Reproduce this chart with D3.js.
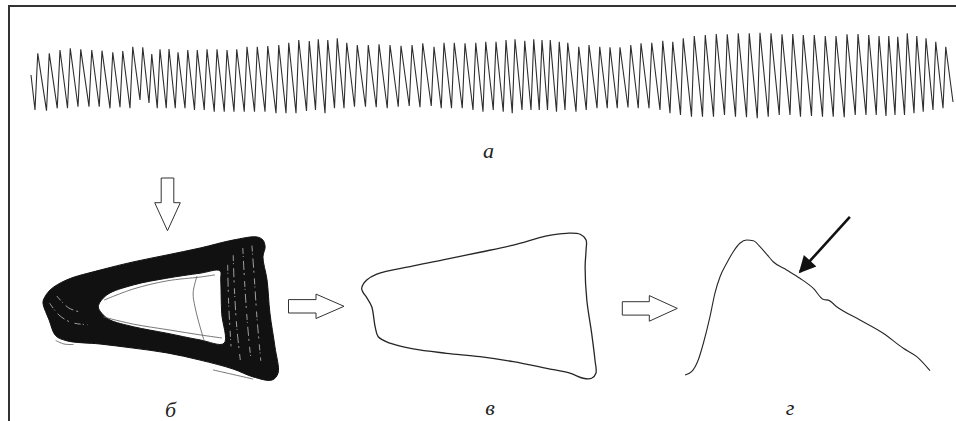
<!DOCTYPE html>
<html lang="ru">
<head>
    <meta charset="UTF-8">
    <title>Пульсовая волна</title>
    <style>
        body { margin: 0; background: #fff; }
        svg { display: block; }
        .lbl { font-family: 'Liberation Serif', 'DejaVu Serif', serif; font-style: italic; font-size: 22px; fill: #222; }
    </style>
</head>
<body>
<script src="https://d3js.org/d3.v7.min.js"></script>
<script>
    // а: peak times (s), peak and trough values of each beat
    const peakTimes = [
        0.54, 1.46, 2.32, 3.14, 3.98, 4.86, 5.68, 6.54, 7.34, 8.14,
        8.94, 9.66, 10.32, 11.04, 11.76, 12.54, 13.30, 14.08, 14.88, 15.68,
        16.46, 17.28, 18.10, 18.94, 19.82, 20.62, 21.42, 22.26, 22.98, 23.74,
        24.50, 25.26, 26.10, 26.98, 27.84, 28.72, 29.60, 30.48, 31.34, 32.24,
        33.04, 33.86, 34.72, 35.58, 36.38, 37.20, 38.00, 38.72, 39.50, 40.22,
        40.88, 41.54, 42.26, 42.94, 43.82, 44.64, 45.50, 46.32, 47.12, 47.98,
        48.80, 49.66, 50.54, 51.34, 52.18, 53.06, 53.94, 54.82, 55.70, 56.58,
        57.46, 58.32, 59.20, 60.08, 60.94, 61.78, 62.66, 63.54, 64.40, 65.28,
        66.16, 67.02, 67.84, 68.62, 69.34, 70.10, 70.86, 71.60, 72.38, 73.18
    ];
    const peakValues = [
        74.7, 74.7, 78, 79.7, 78.7, 78, 77.3, 75.7, 77, 81.3,
        80.7, 74, 78.7, 79, 75.7, 78, 78, 78.7, 78.7, 78,
        78.7, 81.3, 81.3, 82, 83, 85.3, 88, 87, 88.7, 88,
        89.7, 85.3, 83, 83, 83.7, 83, 82.3, 83, 84.7, 81.3,
        85.3, 85.3, 84.7, 85.3, 86.3, 86.3, 88, 88.7, 87.3, 88.7,
        88, 88, 86.3, 85.3, 81.3, 83, 81.3, 80.7, 80.7, 83,
        84.7, 85.3, 87.3, 86.3, 89.7, 92, 93, 94, 93.7, 94.7,
        94.7, 95.3, 94.7, 93.7, 94, 93, 93, 92, 92, 93.7,
        94, 93, 92, 92, 91.3, 94.7, 92, 89.7, 86.3, 81.3
    ];
    const troughValues = [
        18, 17.3, 19.7, 19.7, 21.3, 21.3, 21.3, 19.7, 20.7, 19.7,
        28, 25, 19.7, 19.7, 19.7, 19.7, 18, 18, 16.3, 16.3,
        16.3, 16.3, 16.3, 16.3, 14.7, 14.7, 14.7, 17, 18, 14.7,
        19.7, 19.7, 21.3, 21.3, 20.7, 19.7, 21.3, 22, 20.7, 22,
        19.7, 19.7, 19.7, 18, 16.3, 18, 16.3, 14.7, 18, 18,
        18, 18, 16.3, 18, 16.3, 18, 19.7, 19.7, 19.7, 20.5,
        19.7, 19.7, 18, 14.7, 13, 11.3, 11.3, 11.3, 13, 11.3,
        10.7, 9.7, 11.3, 13, 13, 11.3, 12, 11.3, 11.3, 10.7,
        13, 13, 13, 12, 13, 13, 14.7, 16.3, 18, 19.7
    ];
    const upstroke = 0.22;          // rise time of a beat, s
    const recordStart = [0, 53];
    const recordEnd = [73.76, 26];

    // б: phase portrait band (outer and inner edges), stray loops, gaps in the band
    const loopOuter = [
        [1.4, 33.3], [4.2, 37.5], [11.1, 41.7], [25, 45.8], [38.8, 49.2], [52.9, 52.1],
        [66.7, 55], [80.4, 58.3], [90.4, 59.6], [92.9, 58.3], [93.8, 55.4], [92.9, 51.3],
        [94.6, 41.7], [95.8, 27.9], [97.9, 13.8], [99.2, 2.9], [96.7, 0], [88.8, 1.3],
        [80.4, 4.6], [66.7, 8.3], [52.9, 11.3], [38.8, 13.3], [25, 15], [11.3, 16.3],
        [6.5, 18.5], [3.8, 25], [1.3, 31.6]
    ];
    const loopInner = [
        [24.3, 30.5], [27.8, 35.4], [38.9, 39.6], [52.8, 42.4], [66.7, 44.5], [75, 45.5],
        [75.3, 41.7], [75.7, 27.8], [76.7, 15.3], [66.7, 16.7], [52.8, 19.5], [38.9, 22.2],
        [29.2, 25], [26.4, 27.1]
    ];
    const strayLoops = [
        [[65.4, 43.3], [63.8, 36.3], [64.6, 30.4], [66.7, 22.1], [68.3, 16.7]],
        [[26.7, 33.3], [38.8, 37.9], [52.9, 41.3], [66.7, 42.9], [72.9, 43.8]],
        [[26.3, 26.3], [38.8, 23.3], [54.2, 20.8], [66.7, 18.8], [75.8, 17.5]],
        [[72.1, 4.2], [81.3, 2.1], [88.8, 0.4]],
        [[6.5, 16.5], [10, 15], [14, 14.8]]
    ];
    const bandGaps = [
        [[80.5, 52], [81, 38], [82, 22], [83.5, 8]],
        [[84.5, 55], [85.3, 40], [86.4, 24], [87.8, 9]],
        [[88.3, 56], [89.2, 44], [90.4, 26], [92, 8]],
        [[78.2, 48], [78.6, 32], [79.6, 14]],
        [[4, 32], [8, 27], [13, 24], [20, 23]],
        [[7, 35], [12, 30], [18, 28]]
    ];

    // в: averaged loop
    const loopMean = [
        [0.7, 37.4], [2.8, 40.8], [7, 43.3], [22.2, 46.7], [36.1, 49.5], [50, 52.4],
        [63.9, 55.4], [77.8, 59.2], [86.1, 60.3], [91.7, 59.9], [94.2, 57.5], [94.2, 53.3],
        [93.8, 46.4], [94.5, 32.5], [96.5, 18.8], [97.9, 7.5], [98.3, 2], [96.5, -0.1],
        [93, -0.1], [87.5, 2], [77.8, 4], [63.9, 6.8], [50, 8.9], [36.1, 10.3],
        [22.2, 12.1], [12.5, 14.5], [7.6, 17.2], [6.3, 21.4], [4.9, 29.7], [3, 33.2], [1.1, 36]
    ];

    // г: restored pulse wave (t, s; p, %)
    const pulseShape = [
        [0, 0.7], [0.027, 3.1], [0.054, 11.4], [0.075, 23.4], [0.102, 42.4], [0.122, 59.1],
        [0.143, 70.9], [0.17, 80.5], [0.197, 88.8], [0.224, 94.8], [0.252, 97.1], [0.279, 96.6],
        [0.306, 92.4], [0.333, 87.1], [0.36, 81.6], [0.415, 75.7], [0.469, 69.8], [0.524, 62.6],
        [0.566, 54.6], [0.585, 54.2], [0.619, 49.5], [0.714, 40], [0.809, 30.5], [0.891, 19.8],
        [0.946, 13.8], [1, 3.8]
    ];
    const notchPointer = [[0.673, 113.6], [0.469, 74.3]];

    const labels = ['а', 'б', 'в', 'г'];

    const width = 956;
    const height = 421;
    const ink = '#262626';

    const svg = d3.select('body').append('svg')
        .attr('width', width)
        .attr('height', height);

    // frame: top and left rules
    svg.append('line').attr('x1', 8).attr('x2', 956).attr('y1', 6).attr('y2', 6)
        .attr('stroke', '#333').attr('stroke-width', 2);
    svg.append('line').attr('x1', 9).attr('x2', 9).attr('y1', 5).attr('y2', height)
        .attr('stroke', '#333').attr('stroke-width', 2);

    // ---- а : raw record ----
    const xA = d3.scaleLinear().domain([0, 73.76]).range([31, 953]);
    const yA = d3.scaleLinear().domain([0, 100]).range([128, 28]);

    let record = [recordStart];
    peakTimes.forEach(function (t, i) {
        record.push([t - upstroke, troughValues[i]]);
        record.push([t, peakValues[i]]);
    });
    record.push(recordEnd);

    svg.append('path')
        .datum(record)
        .attr('fill', 'none')
        .attr('stroke', '#2e2e2e')
        .attr('stroke-width', 1.1)
        .attr('d', d3.line().x(d => xA(d[0])).y(d => yA(d[1])));

    // ---- б : phase portrait ----
    const uB = d3.scaleLinear().domain([0, 100]).range([40, 280]);
    const vB = d3.scaleLinear().domain([0, 60]).range([380, 236]);
    const loopB = d3.line().x(d => uB(d[0])).y(d => vB(d[1])).curve(d3.curveCatmullRomClosed.alpha(0.5));
    const openB = d3.line().x(d => uB(d[0])).y(d => vB(d[1])).curve(d3.curveCatmullRom.alpha(0.5));

    svg.append('path')
        .attr('d', loopB(loopOuter) + loopB(loopInner))
        .attr('fill', '#111')
        .attr('fill-rule', 'evenodd')
        .attr('stroke', '#111')
        .attr('stroke-width', 1);

    svg.selectAll('.gap')
        .data(bandGaps)
        .enter()
        .append('path')
        .attr('class', 'gap')
        .attr('d', openB)
        .attr('fill', 'none')
        .attr('stroke', '#fff')
        .attr('stroke-width', 0.6)
        .attr('stroke-dasharray', '6,2,1,4,9,3,2,6');

    svg.selectAll('.stray')
        .data(strayLoops)
        .enter()
        .append('path')
        .attr('class', 'stray')
        .attr('d', openB)
        .attr('fill', 'none')
        .attr('stroke', '#555')
        .attr('stroke-width', 0.8);

    // ---- в : mean loop ----
    const uC = d3.scaleLinear().domain([0, 100]).range([360, 600]);
    const vC = d3.scaleLinear().domain([0, 60]).range([378, 234]);
    svg.append('path')
        .datum(loopMean)
        .attr('fill', 'none')
        .attr('stroke', ink)
        .attr('stroke-width', 1.3)
        .attr('d', d3.line().x(d => uC(d[0])).y(d => vC(d[1])).curve(d3.curveCatmullRomClosed.alpha(0.5)));

    // ---- г : pulse wave ----
    const tD = d3.scaleLinear().domain([0, 1]).range([685, 930]);
    const pD = d3.scaleLinear().domain([0, 100]).range([376, 236]);
    svg.append('path')
        .datum(pulseShape)
        .attr('fill', 'none')
        .attr('stroke', ink)
        .attr('stroke-width', 1.1)
        .attr('d', d3.line().x(d => tD(d[0])).y(d => pD(d[1])).curve(d3.curveMonotoneX));

    // black pointer to the notch
    const defs = svg.append('defs');
    defs.append('marker')
        .attr('id', 'head')
        .attr('viewBox', '0 0 10 10')
        .attr('refX', 9).attr('refY', 5)
        .attr('markerWidth', 7.5).attr('markerHeight', 6.5)
        .attr('markerUnits', 'strokeWidth')
        .attr('orient', 'auto')
        .append('path')
        .attr('d', 'M0,0 L10,5 L0,10 Z')
        .attr('fill', '#111');
    svg.append('line')
        .attr('x1', tD(notchPointer[0][0])).attr('y1', pD(notchPointer[0][1]))
        .attr('x2', tD(notchPointer[1][0])).attr('y2', pD(notchPointer[1][1]))
        .attr('stroke', '#111')
        .attr('stroke-width', 2.6)
        .attr('marker-end', 'url(#head)');

    // hollow arrows
    function arrowRight(x0, xb, xt, yc, hs, hh) {
        return `M${x0},${yc - hs}H${xb}V${yc - hh}L${xt},${yc}L${xb},${yc + hh}V${yc + hs}H${x0}Z`;
    }
    function arrowDown(y0, yb, yt, xc, hs, hh) {
        return `M${xc - hs},${y0}V${yb}H${xc - hh}L${xc},${yt}L${xc + hh},${yb}H${xc + hs}V${y0}Z`;
    }
    const hollow = [
        arrowDown(178, 202.7, 230.7, 167.5, 6.3, 12.8),
        arrowRight(288.5, 316, 344, 306.3, 6.7, 12.2),
        arrowRight(622.3, 649.3, 677.3, 308.4, 6.7, 12.8)
    ];
    svg.selectAll('.hollow')
        .data(hollow)
        .enter()
        .append('path')
        .attr('class', 'hollow')
        .attr('d', d => d)
        .attr('fill', '#fff')
        .attr('stroke', '#333')
        .attr('stroke-width', 1);

    // panel letters
    const labelPos = [[488.5, 158], [170.5, 416.5], [490, 415], [790, 415]];
    svg.selectAll('.lbl')
        .data(labels)
        .enter()
        .append('text')
        .attr('class', 'lbl')
        .attr('text-anchor', 'middle')
        .attr('x', (d, i) => labelPos[i][0])
        .attr('y', (d, i) => labelPos[i][1])
        .text(d => d);
</script>
</body>
</html>
